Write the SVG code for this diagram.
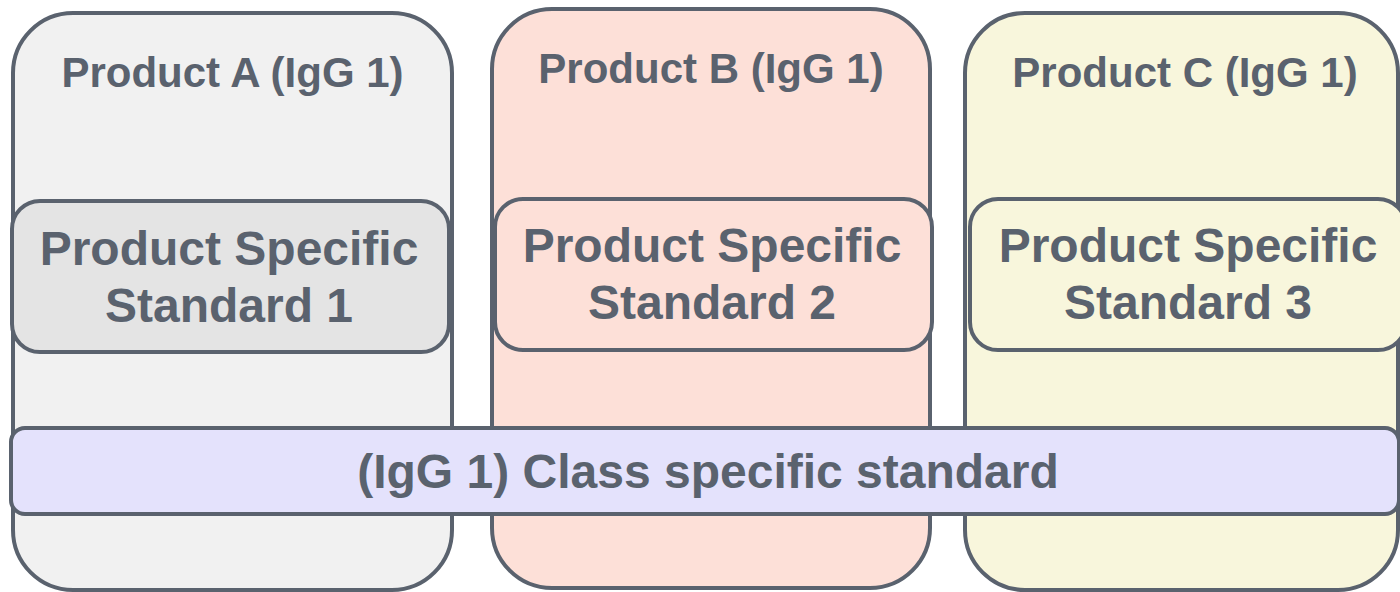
<svg xmlns="http://www.w3.org/2000/svg" width="1400" height="592" viewBox="0 0 1400 592">
<style>
.box{stroke:#5a626e;stroke-width:4}
.t{font-family:"Liberation Sans",Arial,sans-serif;font-weight:bold;fill:#5a626e;text-anchor:middle}
.title{font-size:42px}
.big{font-size:48px}
</style>
<rect width="1400" height="592" fill="#ffffff"/>
<g id="productA">
<rect class="box" x="13" y="13" width="439" height="577" rx="60" fill="#f1f1f1"/>
<text class="t title" x="232.5" y="87">Product A (IgG 1)</text>
</g>
<g id="productB">
<rect class="box" x="492" y="9" width="438" height="579" rx="60" fill="#fde0d8"/>
<text class="t title" x="711" y="83">Product B (IgG 1)</text>
</g>
<g id="productC">
<rect class="box" x="965" y="13" width="433" height="577" rx="60" fill="#f8f6dc"/>
<text class="t title" x="1185" y="87">Product C (IgG 1)</text>
</g>
<g id="standard1">
<rect class="box" x="12" y="201" width="437" height="151" rx="28" fill="#e4e4e4"/>
<text class="t big" x="229" y="265">Product Specific</text>
<text class="t big" x="229" y="322">Standard 1</text>
</g>
<g id="standard2">
<rect class="box" x="495" y="199" width="437" height="151" rx="28" fill="#fde0d8"/>
<text class="t big" x="712" y="262">Product Specific</text>
<text class="t big" x="712" y="319">Standard 2</text>
</g>
<g id="standard3">
<rect class="box" x="970" y="199" width="436" height="151" rx="28" fill="#f8f6dc"/>
<text class="t big" x="1188" y="262">Product Specific</text>
<text class="t big" x="1188" y="319">Standard 3</text>
</g>
<g id="classStandard">
<rect class="box" x="11" y="428" width="1388" height="86" rx="14" fill="#e4e2fc"/>
<text class="t big" x="708" y="488">(IgG 1) Class specific standard</text>
</g>
<g id="connectors"></g>
</svg>
